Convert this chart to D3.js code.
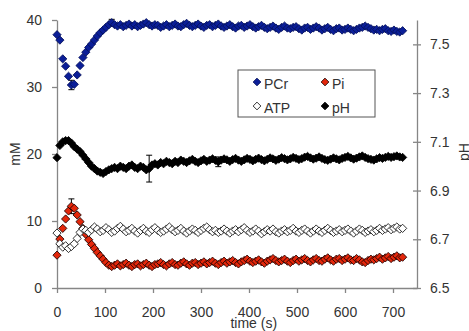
<!DOCTYPE html>
<html>
<head>
<meta charset="utf-8">
<script src="https://cdn.jsdelivr.net/npm/d3@7"></script>
<style>
body { margin: 0; background: #fff; }
text { font-family: "Liberation Sans", Arial, sans-serif; fill: #333; }
</style>
</head>
<body>
<div id="chart"></div>
<script>
// sample times (s)
var time = [0,6,12,18,24,30,36,42,48,54,
  60,66,72,78,84,90,96,102,108,114,
  120,126,132,138,144,150,156,162,168,174,
  180,186,192,198,204,210,216,222,228,234,
  240,246,252,258,264,270,276,282,288,294,
  300,306,312,318,324,330,336,342,348,354,
  360,366,372,378,384,390,396,402,408,414,
  420,426,432,438,444,450,456,462,468,474,
  480,486,492,498,504,510,516,522,528,534,
  540,546,552,558,564,570,576,582,588,594,
  600,606,612,618,624,630,636,642,648,654,
  660,666,672,678,684,690,696,702,708,714,
  720];

var pcr = [37.8,37.0,34.2,33.1,31.6,30.3,30.4,31.8,33.2,34.4,
  35.2,35.9,36.4,37.0,37.6,38.1,38.5,38.9,39.3,39.6,
  39.3,39.1,39.3,39.0,39.2,39.4,39.1,39.3,39.0,39.2,
  39.4,39.6,39.3,39.1,39.3,39.2,38.9,39.1,39.3,39.0,
  39.2,39.4,39.1,39.0,39.3,39.5,39.2,39.0,39.2,39.4,
  39.1,38.9,39.2,39.3,39.0,39.2,39.4,39.1,38.9,39.1,
  39.3,39.0,38.8,39.1,39.2,38.9,39.1,39.3,39.0,38.8,
  39.0,39.2,38.9,38.7,38.9,39.1,38.8,38.6,38.9,39.1,
  38.8,38.7,38.9,39.0,38.7,38.5,38.8,38.9,38.6,38.8,
  39.0,38.8,38.5,38.7,38.9,38.6,38.4,38.7,38.8,38.5,
  38.6,38.8,38.6,38.4,38.6,38.8,38.9,39.1,38.9,38.7,
  38.5,38.6,38.4,38.6,38.7,38.4,38.3,38.5,38.3,38.2,
  38.4];

var pi = [4.9,7.3,8.9,10.3,11.5,12.2,11.9,10.9,9.9,8.9,
  8.0,7.2,6.5,5.9,5.3,4.8,4.3,3.8,3.4,3.2,
  3.4,3.6,3.3,3.5,3.7,3.4,3.2,3.5,3.6,3.3,
  3.5,3.7,3.4,3.2,3.5,3.6,3.8,3.5,3.3,3.6,
  3.8,3.5,3.4,3.7,3.9,3.6,3.4,3.7,3.8,3.5,
  3.7,3.9,3.6,3.8,4.0,3.7,3.5,3.8,4.0,3.7,
  3.9,4.1,3.8,3.6,3.9,4.1,4.3,4.0,3.8,4.0,
  4.2,3.9,3.7,4.0,4.2,4.4,4.1,3.9,4.1,4.3,
  4.0,3.8,4.1,4.3,4.0,4.2,4.4,4.1,3.9,4.2,
  4.4,4.1,4.0,4.3,4.5,4.2,4.0,4.3,4.4,4.1,
  4.3,4.5,4.2,4.1,4.4,4.2,3.9,3.8,4.1,4.3,
  4.2,4.4,4.6,4.3,4.5,4.7,4.4,4.6,4.8,4.5,
  4.6];

var atp = [8.2,6.6,6.1,6.3,5.9,6.2,6.6,7.4,8.3,8.8,
  8.6,8.3,8.7,9.1,8.8,8.4,8.6,9.0,8.7,8.3,
  8.5,8.9,9.2,8.8,8.4,8.6,8.9,8.5,8.2,8.6,
  8.9,8.5,8.3,8.7,9.0,8.6,8.3,8.5,8.8,9.1,
  8.7,8.4,8.6,8.9,8.5,8.2,8.5,8.8,8.6,8.3,
  8.6,8.9,9.1,8.7,8.4,8.6,8.3,8.5,8.8,8.5,
  8.2,8.5,8.7,8.4,8.7,9.0,8.6,8.3,8.5,8.8,
  8.5,8.1,8.4,8.7,8.5,8.8,8.4,8.2,8.5,8.7,
  8.4,8.6,8.9,8.5,8.3,8.6,8.8,8.5,8.2,8.5,
  8.8,8.5,8.3,8.6,8.9,8.6,8.3,8.5,8.7,8.4,
  8.6,8.8,8.5,8.2,8.5,8.8,8.6,8.3,8.5,8.7,
  8.4,8.6,8.9,8.6,8.8,9.0,8.7,8.9,9.1,8.8,
  8.9];

var ph = [7.035,7.085,7.100,7.105,7.105,7.095,7.080,7.070,7.060,7.045,
  7.030,7.015,7.000,6.990,6.980,6.975,6.970,6.978,6.985,6.990,
  6.995,6.990,7.000,6.995,6.990,7.000,7.005,6.995,6.990,7.000,
  6.995,6.985,6.990,7.005,7.010,7.005,7.015,7.010,7.020,7.015,
  7.010,7.020,7.015,7.025,7.020,7.015,7.022,7.028,7.020,7.015,
  7.022,7.028,7.020,7.025,7.030,7.024,7.018,7.025,7.030,7.026,
  7.020,7.027,7.032,7.025,7.020,7.026,7.032,7.028,7.022,7.028,
  7.033,7.027,7.022,7.028,7.034,7.030,7.024,7.029,7.035,7.031,
  7.026,7.030,7.036,7.032,7.027,7.031,7.037,7.040,7.034,7.029,
  7.033,7.038,7.032,7.027,7.024,7.029,7.034,7.030,7.026,7.032,
  7.036,7.040,7.034,7.029,7.033,7.038,7.042,7.036,7.031,7.028,
  7.025,7.030,7.035,7.032,7.036,7.040,7.036,7.039,7.042,7.038,
  7.036];

// [time, error] for the few error bars that stick out of the markers
var errPCr = [[30, 0.7], [114, 0.5]];
var errPi = [[30, 1.1]];
var errPH = [[192, 0.055], [336, 0.02]];

var xTicks = [0,100,200,300,400,500,600,700];
var mMTicks = [0,10,20,30,40];
var phTicks = [6.5,6.7,6.9,7.1,7.3,7.5];

var legendNames = ["PCr", "Pi", "ATP", "pH"];

var margin = {left: 57, right: 52, top: 20, bottom: 43};
var width = 469 - margin.left - margin.right;
var height = 331 - margin.top - margin.bottom;

var svg = d3.select("#chart")
  .append("svg")
  .attr("width", 469)
  .attr("height", 331)
  .append("g")
  .attr("transform", "translate(" + margin.left + "," + margin.top + ")");

var xScale = d3.scaleLinear().domain([0, 750]).range([0, width]);
var yScale = d3.scaleLinear().domain([0, 40]).range([height, 0]);
var phScale = d3.scaleLinear().domain([6.5, 7.6]).range([height, 0]);

var axisColor = "#868686";

// axes
var gX = svg.append("g")
  .attr("transform", "translate(0," + height + ")")
  .call(d3.axisBottom(xScale).tickValues(xTicks).tickSize(5).tickSizeOuter(0).tickPadding(14));

var gY = svg.append("g")
  .call(d3.axisLeft(yScale).tickValues(mMTicks).tickSize(5).tickSizeOuter(0).tickPadding(10));

var gR = svg.append("g")
  .attr("transform", "translate(" + width + ",0)")
  .call(d3.axisRight(phScale).tickValues(phTicks).tickFormat(d3.format(".1f")).tickSize(4).tickSizeOuter(0).tickPadding(9));
gR.selectAll(".tick line").attr("x1", -4); // ticks cross the axis

[gX, gY, gR].forEach(function(g) {
  g.select(".domain").attr("stroke", axisColor).attr("stroke-width", 1.3);
  g.selectAll(".tick line").attr("stroke", axisColor).attr("stroke-width", 1.3);
  g.selectAll(".tick text").attr("font-size", "14px").attr("fill", "#333")
    .style("font-family", "'Liberation Sans', Arial, sans-serif");
});

// axis titles
svg.append("text")
  .attr("transform", "translate(-37," + (height / 2) + ") rotate(-90)")
  .attr("text-anchor", "middle")
  .attr("font-size", "14px")
  .text("mM");

svg.append("text")
  .attr("transform", "translate(" + (width + 52) + "," + (height / 2 - 2) + ") rotate(-90)")
  .attr("text-anchor", "middle")
  .attr("font-size", "14px")
  .text("pH");

svg.append("text")
  .attr("x", xScale(410))
  .attr("y", height + 40)
  .attr("text-anchor", "middle")
  .attr("font-size", "14px")
  .text("time (s)");

// series
var diamond = d3.symbol().type(d3.symbolSquare).size(34);

var series = [
  {name: "PCr", values: pcr, scale: yScale, fill: "#0b1e98", stroke: "#05105a", err: errPCr},
  {name: "Pi", values: pi, scale: yScale, fill: "#e3270b", stroke: "#1a0000", err: errPi},
  {name: "ATP", values: atp, scale: yScale, fill: "#ffffff", stroke: "#111", err: []},
  {name: "pH", values: ph, scale: phScale, fill: "#000000", stroke: "#000", err: errPH}
];

series.forEach(function(s) {
  var pts = time.map(function(t, i) { return {t: t, v: s.values[i]}; });

  // error bars
  s.err.forEach(function(e) {
    var i = time.indexOf(e[0]);
    var v = s.values[i];
    var g = svg.append("g").attr("stroke", "#000").attr("stroke-width", 1);
    g.append("line")
      .attr("x1", xScale(e[0])).attr("x2", xScale(e[0]))
      .attr("y1", s.scale(v - e[1])).attr("y2", s.scale(v + e[1]));
    [v - e[1], v + e[1]].forEach(function(c) {
      g.append("line")
        .attr("x1", xScale(e[0]) - 3).attr("x2", xScale(e[0]) + 3)
        .attr("y1", s.scale(c)).attr("y2", s.scale(c));
    });
  });

  svg.append("g").selectAll("path")
    .data(pts)
    .enter().append("path")
    .attr("d", diamond)
    .attr("transform", function(d) {
      return "translate(" + xScale(d.t) + "," + s.scale(d.v) + ") rotate(45)";
    })
    .attr("fill", s.fill)
    .attr("stroke", s.stroke)
    .attr("stroke-width", 0.8);
});

// legend
var legend = svg.append("g").attr("transform", "translate(" + (238 - margin.left) + "," + (70 - margin.top) + ")");
legend.append("rect")
  .attr("width", 137).attr("height", 47)
  .attr("fill", "#fff").attr("stroke", "#555").attr("stroke-width", 1);

var legendMark = d3.symbol().type(d3.symbolSquare).size(30);

legendNames.forEach(function(name, i) {
  var s = series.filter(function(d) { return d.name === name; })[0];
  var col = i % 2, row = Math.floor(i / 2);
  var lx = 19 + col * 68, ly = 12 + row * 24;
  legend.append("path")
    .attr("d", legendMark)
    .attr("transform", "translate(" + lx + "," + ly + ") rotate(45)")
    .attr("fill", s.fill)
    .attr("stroke", s.stroke)
    .attr("stroke-width", 0.8);
  legend.append("text")
    .attr("x", lx + 7)
    .attr("y", ly + 7)
    .attr("font-size", "14px")
    .text(name);
});
</script>
</body>
</html>
